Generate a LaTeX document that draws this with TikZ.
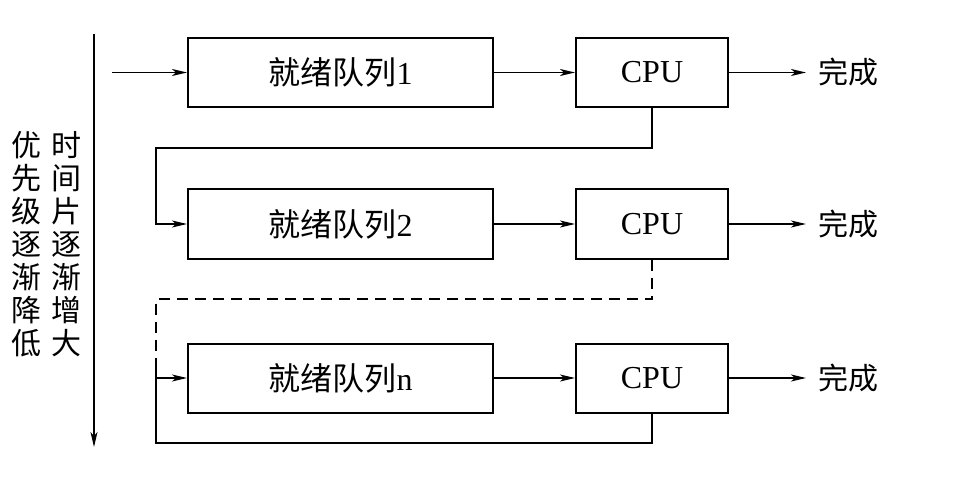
\documentclass[tikz,border=0pt]{standalone}
\usepackage{fontspec}
\setmainfont{Liberation Serif}
\newfontfamily\cjk{Noto Sans CJK SC}
\usetikzlibrary{arrows.meta}
\begin{document}
\begin{tikzpicture}[x=1pt,y=-1pt,
  box/.style={draw, line width=2pt, minimum height=69pt, inner sep=0pt, font=\fontsize{32}{34}\selectfont},
  qbox/.style={box, minimum width=305pt},
  cbox/.style={box, minimum width=152pt},
  flow/.style={line width=1.8pt, -{Stealth[length=15pt,width=7pt,inset=4pt]}},
  fb/.style={line width=1.8pt},
  lbl/.style={font=\cjk\fontsize{30}{33}\selectfont, inner sep=0pt},
  donelbl/.style={lbl, inner xsep=12pt}
]
\useasboundingbox (0,0) rectangle (962,500);
\fill[white] (0,0) rectangle (962,500);

% boxes
\node[qbox] (q1) at (340.5,72.5) {{\cjk 就绪队列}1};
\node[cbox] (c1) at (652,72.5) {CPU};
\node[qbox] (q2) at (340.5,224) {{\cjk 就绪队列}2};
\node[cbox] (c2) at (652,224) {CPU};
\node[qbox] (qn) at (340.5,378) {{\cjk 就绪队列}n};
\node[cbox] (cn) at (652,378) {CPU};

% outputs
\node[donelbl, anchor=west] (d1) at (806,72.5) {完成};
\node[donelbl, anchor=west] (d2) at (806,224) {完成};
\node[donelbl, anchor=west] (dn) at (806,378) {完成};

% left labels
\node[lbl, align=center] (t1) at (27,244) {优\\先\\级\\逐\\渐\\降\\低};
\node[lbl, align=center] (t2) at (66,244) {时\\间\\片\\逐\\渐\\增\\大};

% vertical arrow
\coordinate (vt) at (94,34);
\coordinate (vb) at (94,447);
\draw[flow] (vt) -- (vb);

% input
\coordinate (in1) at (112,72.5);
\draw[flow] (in1) -- (q1);

% queue -> cpu -> done
\draw[flow] (q1) -- (c1);
\draw[flow] (q2) -- (c2);
\draw[flow] (qn) -- (cn);
\draw[flow] (c1) -- (d1);
\draw[flow] (c2) -- (d2);
\draw[flow] (cn) -- (dn);

% feedback 1 -> 2
\coordinate (k1) at (156,148);
\draw[flow] (c1.south) |- (k1) |- (q2.west);

% feedback 2 -> n (dashed)
\coordinate (k2) at (156,299);
\coordinate (m) at (156,359);
\draw[fb, dash pattern=on 11pt off 7pt] (c2.south) |- (k2) -- (m);

% feedback n -> n
\coordinate (kn) at (156,443);
\coordinate (jn) at (156,378);
\draw[fb] (cn.south) |- (kn) -- (m);
\draw[flow] (jn) -- (qn.west);
\end{tikzpicture}
\end{document}
